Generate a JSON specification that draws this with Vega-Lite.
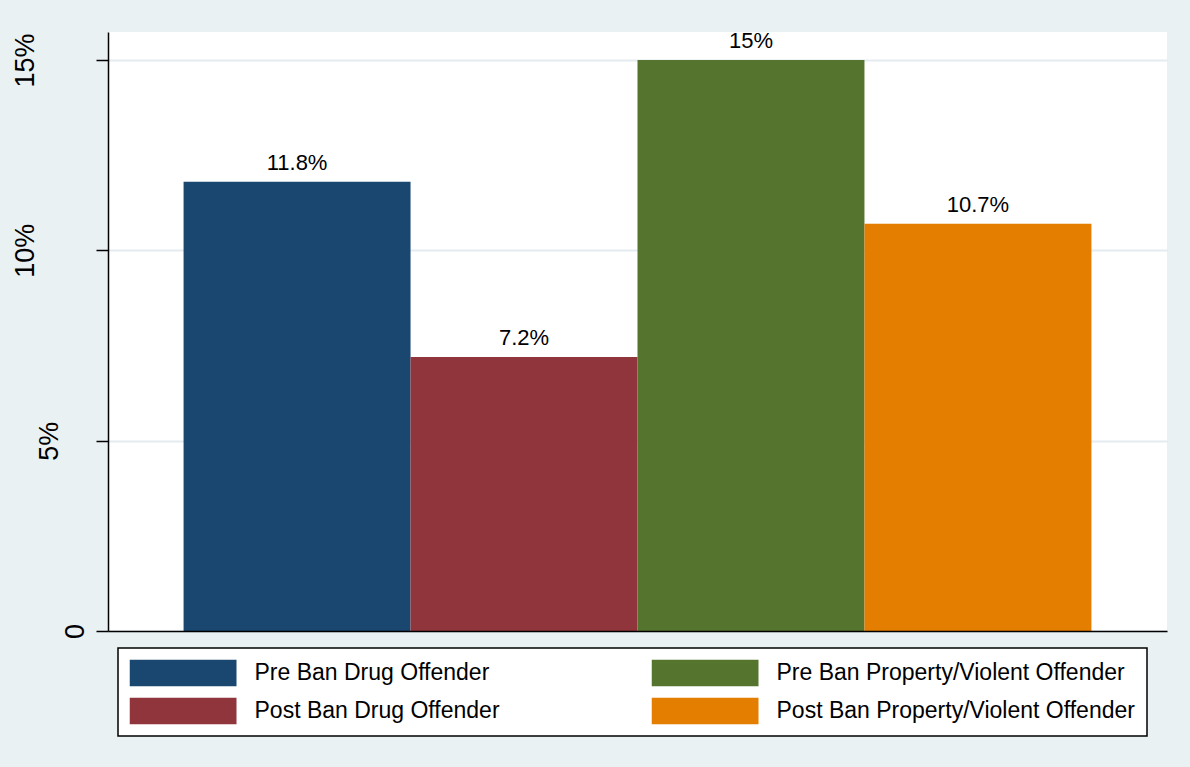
{
  "$schema": "https://vega.github.io/schema/vega-lite/v6.json",
  "width": 1059,
  "height": 599,
  "autosize": {"type": "none"},
  "padding": {"left": 108, "top": 32, "right": 23, "bottom": 136},
  "background": "#eaf1f3",
  "config": {
    "view": {"fill": "white", "stroke": null},
    "font": "Liberation Sans"
  },
  "data": {
    "values": [
      {"group": "Pre Ban Drug Offender", "share": 0.118},
      {"group": "Post Ban Drug Offender", "share": 0.072},
      {"group": "Pre Ban Property/Violent Offender", "share": 0.15},
      {"group": "Post Ban Property/Violent Offender", "share": 0.107}
    ]
  },
  "encoding": {
    "x": {
      "field": "group",
      "type": "nominal",
      "sort": ["Pre Ban Drug Offender", "Post Ban Drug Offender", "Pre Ban Property/Violent Offender", "Post Ban Property/Violent Offender"],
      "scale": {"paddingInner": 0, "paddingOuter": 0.333},
      "axis": {"title": null, "labels": false, "ticks": false, "domainColor": "black", "domainWidth": 1.5, "zindex": 1}
    },
    "y": {
      "field": "share",
      "type": "quantitative",
      "scale": {"domain": [0, 0.15735], "nice": false},
      "axis": {
        "title": null,
        "values": [0, 0.05, 0.1, 0.15],
        "labelExpr": "datum.value === 0 ? '0' : format(datum.value, '.0%')",
        "labelAngle": -90,
        "labelAlign": "center",
        "labelBaseline": "alphabetic",
        "labelFontSize": 27,
        "labelColor": "black",
        "labelPadding": {
          "condition": [
            {"test": "datum.value === 0", "value": 13},
            {"test": "datum.value > 0.04 && datum.value < 0.06", "value": 39}
          ],
          "value": 63
        },
        "tickSize": 12,
        "tickColor": "black",
        "tickWidth": 1.5,
        "domainColor": "black",
        "domainWidth": 1.5,
        "gridColor": "#e4ecef",
        "gridWidth": 2
      }
    }
  },
  "layer": [
    {
      "mark": {"type": "bar"},
      "encoding": {
        "color": {
          "field": "group",
          "type": "nominal",
          "scale": {
            "domain": ["Pre Ban Drug Offender", "Post Ban Drug Offender", "Pre Ban Property/Violent Offender", "Post Ban Property/Violent Offender"],
            "range": ["#1a476f", "#90353b", "#55752f", "#e37e00"]
          },
          "legend": {
            "title": null,
            "orient": "none",
            "legendX": 10,
            "legendY": 616,
            "columns": 2,
            "symbolType": "M-1,-0.2523H1V0.2523H-1Z",
            "symbolSize": 11449,
            "symbolStrokeWidth": 0,
            "symbolOpacity": 1,
            "clipHeight": 27,
            "labelOffset": 18,
            "labelFontSize": 23,
            "labelColor": "black",
            "labelLimit": 600,
            "columnPadding": 151,
            "rowPadding": 11,
            "padding": 11.5,
            "fillColor": "white",
            "strokeColor": "black",
            "encode": {
              "legend": {"update": {"strokeWidth": {"value": 1.5}}}
            }
          }
        }
      }
    },
    {
      "mark": {"type": "text", "baseline": "alphabetic", "dy": -12, "fontSize": 22, "color": "black"},
      "encoding": {
        "text": {"field": "share", "type": "quantitative", "format": ".1~%"}
      }
    }
  ]
}
